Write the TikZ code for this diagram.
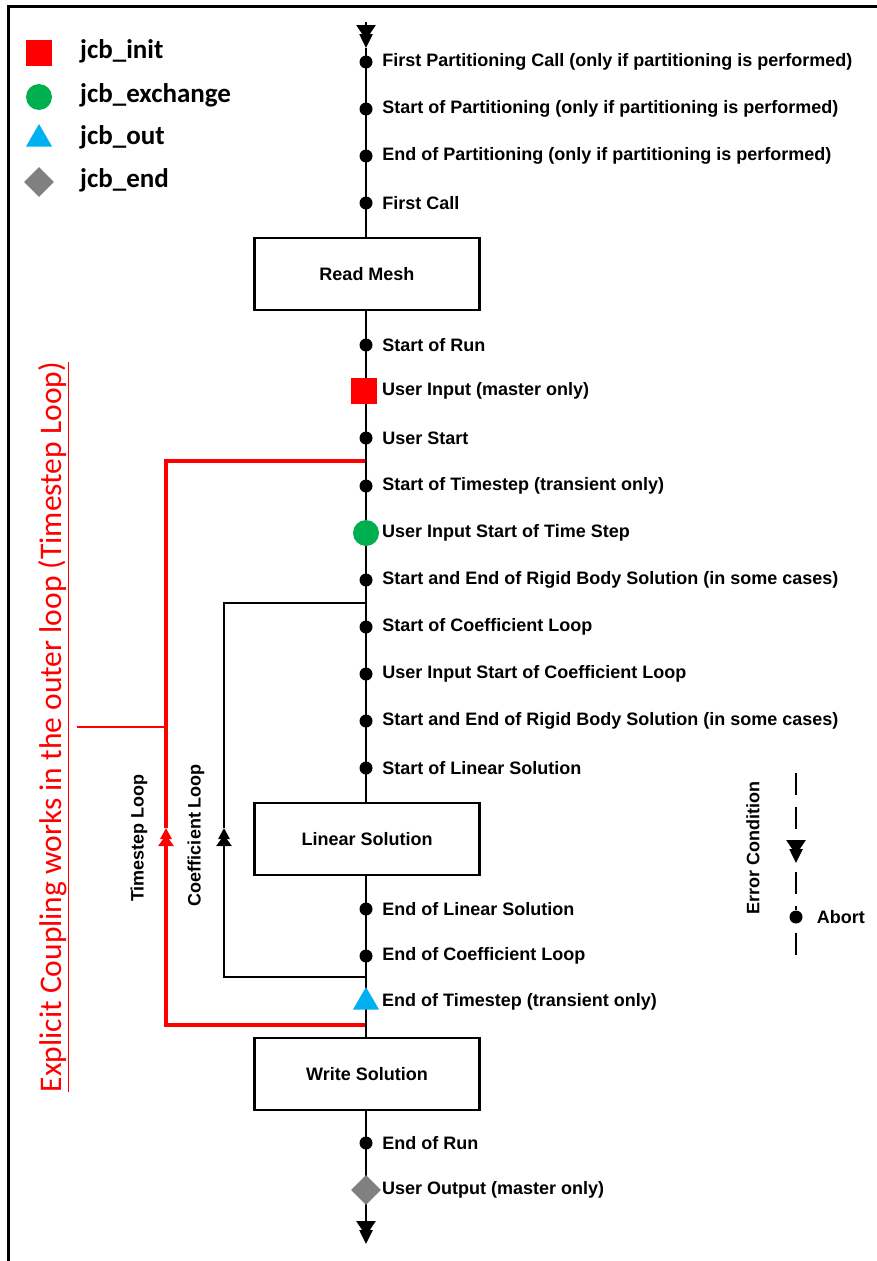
\documentclass[tikz,border=0pt]{standalone}
\usepackage{fontspec}
\setmainfont{Liberation Sans}
\newfontfamily\calibri{Carlito}
\usepackage{tikz}
\usetikzlibrary{arrows.meta, shapes.geometric, positioning, calc}
\definecolor{jcbred}{HTML}{FF0000}
\definecolor{jcbgreen}{HTML}{00B050}
\definecolor{jcbblue}{HTML}{00B0F0}
\definecolor{jcbgray}{HTML}{808080}

\tikzset{
  flow/.style={line width=2.5pt},
  dbltip/.style={-{Triangle[length=15pt,width=19pt,sep=-6pt]Triangle[length=14pt,width=13pt]}},
  looptip/.style={-{Triangle[length=11pt,width=15pt,sep=-4pt]Triangle[length=11pt,width=11pt]}},
  evtdot/.style={circle, fill=black, inner sep=0pt, minimum size=13pt},
  evtlbl/.style={inner sep=0pt, font=\bfseries\fontsize{18}{20}\selectfont},
  stagebox/.style={draw, line width=2.5pt, fill=white, minimum width=225pt,
                   minimum height=72pt, font=\bfseries\fontsize{18}{20}\selectfont},
  mkinit/.style={rectangle, fill=jcbred, inner sep=0pt, minimum size=26pt},
  mkexch/.style={circle, fill=jcbgreen, inner sep=0pt, minimum size=26pt},
  mkout/.style={regular polygon, regular polygon sides=3, fill=jcbblue,
                inner sep=0pt, minimum size=30pt},
  mkend/.style={diamond, fill=jcbgray, inner sep=0pt, minimum size=30pt},
  lgtext/.style={inner sep=0pt, font=\calibri\bfseries\fontsize{27}{29}\selectfont},
  tsloop/.style={jcbred, line width=3.5pt},
  clloop/.style={black, line width=2.5pt},
}

\begin{document}
\begin{tikzpicture}[x=1pt, y=-1pt]
  \useasboundingbox (0,0) rectangle (877,1261);

  %% outer frame
  \draw[line width=3pt] (8,1261) -- (8,6) -- (877,6);

  %% legend
  \node[mkinit] (lgInit) at (39,53) {};
  \node[mkexch] (lgExch) at (39,97) {};
  \node[mkout]  (lgOut)  at (39,139) {};
  \node[mkend]  (lgEnd)  at (39,182) {};
  \node[lgtext, anchor=west] at (80,51)  {jcb\_init};
  \node[lgtext, anchor=west] at (80,95)  {jcb\_exchange};
  \node[lgtext, anchor=west] at (80,137) {jcb\_out};
  \node[lgtext, anchor=west] at (80,180) {jcb\_end};

  %% timestep loop (red) and coefficient loop (black)
  \coordinate (tsTop) at (366,461);
  \coordinate (tsBot) at (366,1025);
  \coordinate (tsArr) at (166,828);
  \draw[tsloop, looptip] (tsBot) -| (tsArr);
  \draw[tsloop] (tsArr) |- (tsTop);

  \coordinate (clTop) at (366,603);
  \coordinate (clBot) at (366,977);
  \coordinate (clArr) at (224,828);
  \draw[clloop, looptip] (clBot) -| (clArr);
  \draw[clloop] (clArr) |- (clTop);

  \node[evtlbl, rotate=90] (tsLbl) at (139,838) {Timestep Loop};
  \node[evtlbl, rotate=90] (clLbl) at (196,835) {Coefficient Loop};

  %% explicit coupling note
  \node[rotate=90, text=jcbred, inner sep=2pt,
        font=\calibri\fontsize{31.5}{33}\selectfont] (note) at (54,727)
    {\underline{Explicit Coupling works in the outer loop (Timestep Loop)}};
  \coordinate (noteEnd) at (166,727);
  \draw[jcbred, line width=1.5pt] (note.south) ++(6,0) -- (noteEnd);

  %% stages
  \node[stagebox] (rm) at (367,274)  {Read Mesh};
  \node[stagebox] (ls) at (367,839)  {Linear Solution};
  \node[stagebox] (ws) at (367,1074) {Write Solution};

  %% main line
  \coordinate (top)    at (366,22);
  \coordinate (topArr) at (366,48);
  \coordinate (bottom) at (366,1244);
  \draw[flow, dbltip] (top) -- (topArr);
  \draw[flow] (topArr) -- (rm.north -| top);
  \draw[flow] (rm.south -| top) -- (ls.north -| top);
  \draw[flow] (ls.south -| top) -- (ws.north -| top);
  \draw[flow, dbltip] (ws.south -| top) -- (bottom);

  %% plain events
  \foreach \nm/\yy/\txt in {
      fpc/62/{First Partitioning Call (only if partitioning is performed)},
      sop/109/{Start of Partitioning (only if partitioning is performed)},
      eop/156/{End of Partitioning (only if partitioning is performed)},
      fcl/203/{First Call},
      sor/345/{Start of Run},
      ust/438/{User Start},
      sts/486/{Start of Timestep (transient only)},
      rb1/580/{Start and End of Rigid Body Solution (in some cases)},
      scl/627/{Start of Coefficient Loop},
      uic/674/{User Input Start of Coefficient Loop},
      rb2/721/{Start and End of Rigid Body Solution (in some cases)},
      sls/768/{Start of Linear Solution},
      els/909/{End of Linear Solution},
      ecl/956/{End of Coefficient Loop},
      eor/1143/{End of Run}} {
    \node[evtdot] (\nm) at (366,\yy) {};
    \node[evtlbl, right=9.5pt of \nm] {\txt};
  }

  %% user routine events
  \node[mkinit] (uin)  at (364,391)  {};
  \node[mkexch] (uit)  at (366,533)  {};
  \node[mkout]  (ets)  at (366,1002) {};
  \node[mkend]  (uout) at (366,1190) {};
  \node[evtlbl, anchor=west] at (382,391)  {User Input (master only)};
  \node[evtlbl, anchor=west] at (382,533)  {User Input Start of Time Step};
  \node[evtlbl, anchor=west] at (382,1002) {End of Timestep (transient only)};
  \node[evtlbl, anchor=west] at (382,1190) {User Output (master only)};

  %% error condition
  \coordinate (errTop) at (796,773);
  \coordinate (errArr) at (796,863);
  \coordinate (errBot) at (796,960);
  \node[evtdot] (abort) at (796,917) {};
  \draw[flow, dbltip, dash pattern=on 22pt off 12pt] (errTop) -- (errArr);
  \draw[flow, dash pattern=on 22pt off 12pt, dash phase=25pt] (errArr) -- (abort) -- (errBot);
  \node[evtlbl, right=14pt of abort] {Abort};
  \node[evtlbl, rotate=90] (errLbl) at (753,848) {Error Condition};
\end{tikzpicture}
\end{document}
